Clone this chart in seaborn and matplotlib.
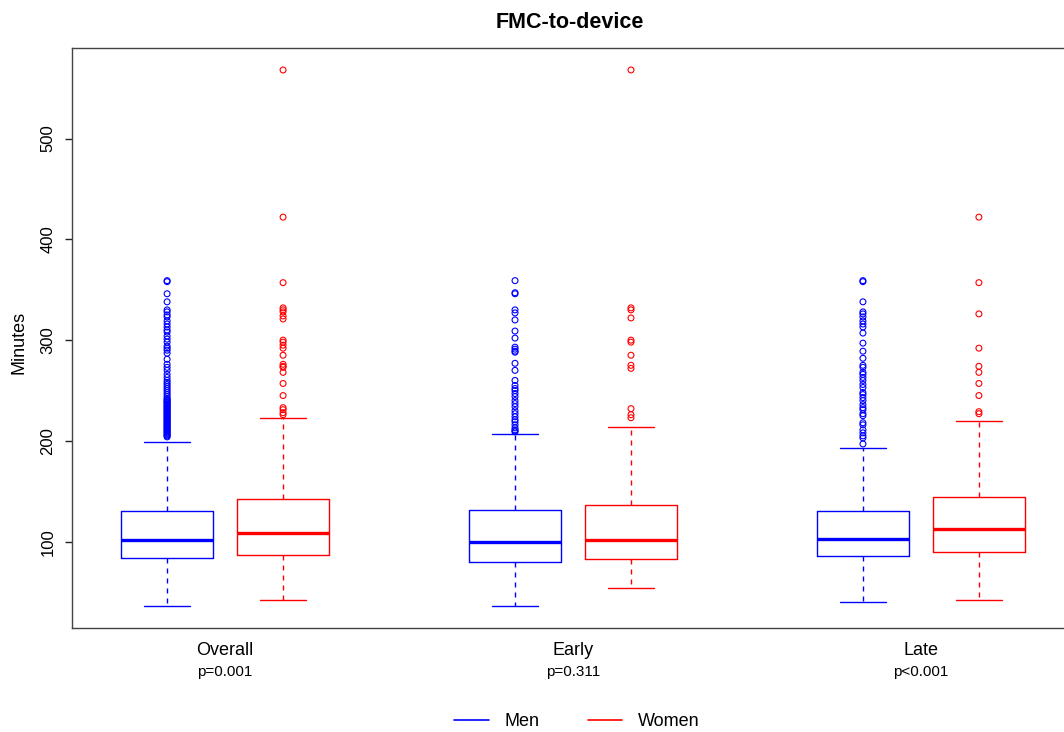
import matplotlib
matplotlib.use("Agg")
import matplotlib.pyplot as plt
from matplotlib.lines import Line2D
import seaborn as sns
import pandas as pd

# ---------------- data ----------------
groups = ["Overall", "Early", "Late"]
p_values = ["p=0.001", "p=0.311", "p<0.001"]
sexes = ["Men", "Women"]

men_whislo = [36, 36, 40]
men_q1 = [84, 80, 86]
men_median = [102, 100, 103]
men_q3 = [130, 131, 130]
men_whishi = [199, 207, 193]

women_whislo = [42, 54, 42]
women_q1 = [87, 83, 90]
women_median = [109, 102, 113]
women_q3 = [142, 136, 144]
women_whishi = [223, 214, 220]

men_overall_out = [204, 205, 206, 207, 208, 209, 210, 211, 212, 213, 214, 215, 216, 217,
                   218, 219, 220, 221, 222, 223, 224, 225, 226, 227, 228, 229, 230, 231,
                   232, 233, 234, 235, 236, 237, 238, 239, 240, 241, 242, 244, 246, 248,
                   250, 252, 254, 256, 258, 260, 263, 266, 270, 273, 276, 281, 287, 290,
                   292, 294, 298, 301, 304, 308, 310, 313, 316, 319, 323, 325, 328, 330,
                   338, 346, 358, 359]
women_overall_out = [226, 228, 231, 233, 245, 257, 268, 273, 274, 276, 285, 292, 295, 298,
                     300, 321, 324, 328, 330, 332, 357, 422, 568]
men_early_out = [209, 210, 211, 213, 216, 219, 221, 224, 227, 230, 234, 237, 240, 244, 247,
                 250, 252, 255, 260, 270, 277, 288, 289, 291, 293, 302, 309, 320, 327, 330,
                 346, 347, 359]
women_early_out = [223, 226, 232, 272, 275, 285, 298, 300, 322, 330, 332, 568]
men_late_out = [197, 203, 205, 208, 211, 216, 218, 225, 227, 231, 233, 236, 240, 243, 246,
                248, 253, 256, 260, 263, 266, 268, 273, 275, 282, 289, 297, 307, 313, 316,
                319, 323, 326, 328, 338, 358, 359]
women_late_out = [227, 229, 245, 257, 268, 274, 292, 326, 357, 422]

y_ticks = [100, 200, 300, 400, 500]

men_out = [men_overall_out, men_early_out, men_late_out]
women_out = [women_overall_out, women_early_out, women_late_out]

colors = {"Men": "#0000FF", "Women": "#FF0000"}

# ---------------- figure ----------------
sns.set_theme(style="ticks")
plt.rcParams["font.family"] = ["Liberation Sans", "DejaVu Sans"]
plt.rcParams["text.color"] = "black"

fig = plt.figure(figsize=(10.64, 7.32), dpi=100)
ax = fig.add_axes([72 / 1064, 1 - 628 / 732, (1074 - 72) / 1064, (628 - 48) / 732])

ax.set_xticks([])
ax.set_yticks(y_ticks)
ax.tick_params(axis="y", left=True, length=5, width=0.9, pad=7, labelsize=12,
               color="#222222", labelcolor="black")

stat_sets = {
    "Men": (men_whislo, men_q1, men_median, men_q3, men_whishi),
    "Women": (women_whislo, women_q1, women_median, women_q3, women_whishi),
}

for si, sex in enumerate(sexes):
    lo, q1, med, q3, hi = stat_sets[sex]
    stats = []
    positions = []
    for gi in range(len(groups)):
        stats.append(dict(whislo=lo[gi], q1=q1[gi], med=med[gi], q3=q3[gi],
                          whishi=hi[gi], fliers=[]))
        positions.append(gi * 3 + 1 + si)
    c = colors[sex]
    ax.bxp(stats, positions=positions, widths=0.8, showfliers=False,
           boxprops=dict(color=c, lw=1.0),
           medianprops=dict(color=c, lw=2.4, solid_capstyle="butt"),
           whiskerprops=dict(color=c, lw=1.0, linestyle=(0, (3.6, 3.6))),
           capprops=dict(color=c, lw=1.0),
           capwidths=0.4, manage_ticks=False)

# outliers via seaborn
rows = []
for gi in range(len(groups)):
    for v in men_out[gi]:
        rows.append((gi * 3 + 1, v, "Men"))
    for v in women_out[gi]:
        rows.append((gi * 3 + 2, v, "Women"))
df_out = pd.DataFrame(rows, columns=["pos", "minutes", "sex"])
sns.scatterplot(data=df_out, x="pos", y="minutes", hue="sex", palette=colors,
                s=18, linewidth=0.8, legend=False, ax=ax, zorder=3)
for coll in ax.collections:
    fc = coll.get_facecolors()
    coll.set_edgecolors(fc)
    coll.set_facecolors("none")

ax.set_xlim(0.18, 8.82)
ax.set_ylim(14.4, 589.8)
ax.set_xlabel("")
ax.set_ylabel("")
ax.set_xticks([])
ax.set_yticks(y_ticks)
ax.set_yticklabels([str(t) for t in y_ticks], rotation=90, va="center")

for sp in ax.spines.values():
    sp.set_visible(True)
    sp.set_color("#444444")
    sp.set_linewidth(1.0)

trans = ax.get_xaxis_transform()
for gi, (g, p) in enumerate(zip(groups, p_values)):
    xc = gi * 3 + 1.5
    ax.text(xc, (628 - 655) / 580, g, transform=trans, ha="center", va="baseline",
            fontsize=13, color="black")
    ax.text(xc, (628 - 676) / 580, p, transform=trans, ha="center", va="baseline",
            fontsize=11, color="black")

fig.text(570 / 1064, 1 - 28 / 732, "FMC-to-device", ha="center", va="baseline",
         fontsize=15.5, fontweight="bold", color="black")
fig.text(19 / 1064, 1 - 342 / 732, "Minutes", rotation=90, ha="center", va="center",
         fontsize=13, color="black")

handles = [Line2D([0], [0], color=colors[s], lw=1.2) for s in sexes]
leg = fig.legend(handles, sexes, loc="center", bbox_to_anchor=(577 / 1064, 1 - 722 / 732),
                 ncol=2, frameon=False, fontsize=13, handlelength=1.9, handletextpad=0.9,
                 columnspacing=2.65)
for txt in leg.get_texts():
    txt.set_color("black")

ax.tick_params(axis="y", left=True, length=5, width=1.0, pad=7, labelsize=12,
               color="#222222", labelcolor="black")
fig.canvas.draw()
fig.savefig("out.png", dpi=100, facecolor="white")
